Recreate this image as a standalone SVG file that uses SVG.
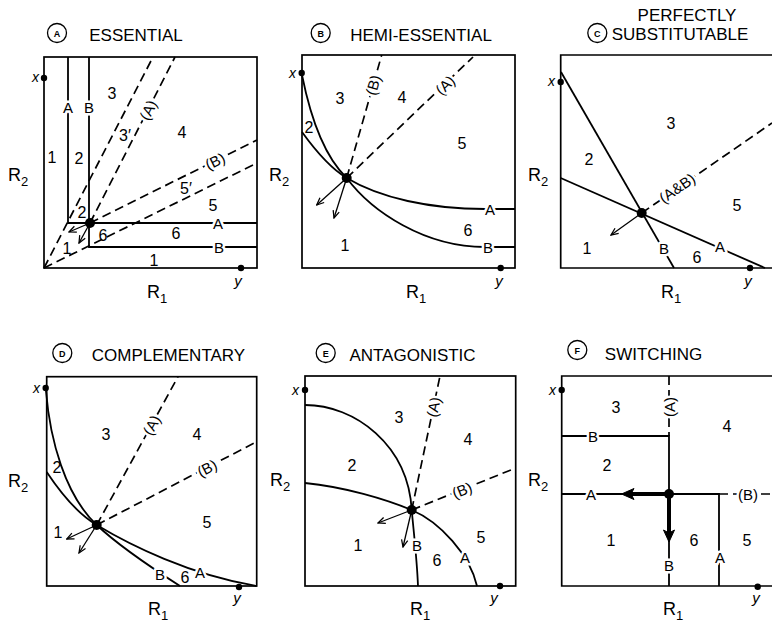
<svg xmlns="http://www.w3.org/2000/svg" width="772" height="628" viewBox="0 0 772 628">
<defs>
<style>
text{font-family:"Liberation Sans",Arial,sans-serif;fill:#000}
.bx{fill:none;stroke:#000;stroke-width:1.7}
.ln{fill:none;stroke:#000;stroke-width:1.8}
.ds{fill:none;stroke:#000;stroke-width:1.7;stroke-dasharray:9 5}
.ar{fill:none;stroke:#000;stroke-width:1.3;marker-end:url(#ah)}
.ttl{font-size:17px;text-anchor:middle}
.cl{fill:none;stroke:#000;stroke-width:1.3}
.cll{font-size:9px;font-weight:bold;text-anchor:middle}
.n{font-size:16px;text-anchor:middle;dominant-baseline:central}
.lb{font-size:15px;text-anchor:middle;dominant-baseline:central;paint-order:stroke;stroke:#fff;stroke-width:5px;stroke-linejoin:round}
.xl{font-size:14px;font-style:italic;text-anchor:end}
.yl{font-size:15px;font-style:italic;text-anchor:middle}
.r{font-size:18px}
.s{font-size:13px}
</style>
<marker id="ah" viewBox="0 0 10 10" refX="9" refY="5" markerWidth="9" markerHeight="9" markerUnits="userSpaceOnUse" orient="auto"><path d="M1,1.5 L9,5 L1,8.5" fill="none" stroke="#000" stroke-width="1.4"/></marker>
</defs>
<rect width="772" height="628" fill="#fff"/>

<g id="panel-a">
<circle class="cl" cx="57" cy="33" r="9.5"/><text class="cll" x="57" y="36.5">A</text>
<text class="ttl" x="136" y="41">ESSENTIAL</text>
<rect class="bx" x="44" y="57" width="213" height="211"/>
<g id="a-connectors">
<path class="ln" d="M68,57 V223 H257"/>
<path class="ln" d="M89,57 V247 H257"/>
<path class="ds" d="M44,268 L153,57"/>
<path class="ds" d="M44,268 L257,163"/>
<path class="ds" d="M90,223 L175,57"/>
<path class="ds" d="M90,223 L257,140"/>
<path class="ar" d="M90,223 L69,232"/>
<path class="ar" d="M90,223 L79,243"/>
</g>
<text class="lb" x="68" y="107">A</text>
<text class="lb" x="89" y="107">B</text>
<text class="lb" x="218" y="223">A</text>
<text class="lb" x="219" y="247">B</text>
<text class="lb" transform="translate(148,110) rotate(-63)">(A)</text>
<text class="lb" transform="translate(215,161) rotate(-26.4)">(B)</text>
<text class="n" x="112" y="93">3</text>
<text class="n" x="182" y="132">4</text>
<text class="n" x="213" y="205">5</text>
<text class="n" x="176" y="233">6</text>
<text class="n" x="103" y="235">6</text>
<text class="n" x="154" y="260">1</text>
<text class="n" x="52" y="157">1</text>
<text class="n" x="79" y="158">2</text>
<text class="n" x="82" y="212">2</text>
<text class="n" x="67" y="248">1</text>
<text class="n" x="125" y="135">3′</text>
<text class="n" x="186" y="188">5′</text>
<circle cx="90" cy="223" r="5"/>
<circle cx="44" cy="78" r="3.2"/><text class="xl" x="39" y="82">x</text>
<circle cx="241" cy="268" r="3.2"/><text class="yl" x="238" y="286">y</text>
<text class="r" x="8" y="181">R<tspan class="s" dy="5">2</tspan></text>
<text class="r" x="147" y="298">R<tspan class="s" dy="5">1</tspan></text>
</g>

<g id="panel-b">
<circle class="cl" cx="320.7" cy="33" r="9.5"/><text class="cll" x="320.7" y="36.5">B</text>
<text class="ttl" x="421" y="41">HEMI-ESSENTIAL</text>
<rect class="bx" x="302" y="55" width="213" height="213"/>
<g id="b-connectors">
<path class="ln" d="M302,75 C312,125 328,160 346.7,178 C372,212 425,247 485,247 L515,247"/>
<path class="ln" d="M302,132 C315,150 330,168 346.7,178 C380,198 430,209 485,209 L515,209"/>
<path class="ds" d="M346.7,178 L381.7,55"/>
<path class="ds" d="M346.7,178 L473,57"/>
<path class="ar" d="M346.7,178 L316.7,205"/>
<path class="ar" d="M346.7,178 L334,218"/>
</g>
<text class="lb" x="490" y="209">A</text>
<text class="lb" x="488" y="247">B</text>
<text class="lb" transform="translate(373,85) rotate(-74)">(B)</text>
<text class="lb" transform="translate(445,85) rotate(-43.8)">(A)</text>
<text class="n" x="340" y="98">3</text>
<text class="n" x="402" y="97">4</text>
<text class="n" x="462" y="143">5</text>
<text class="n" x="309" y="127">2</text>
<text class="n" x="468" y="230">6</text>
<text class="n" x="345" y="245">1</text>
<circle cx="346.7" cy="178" r="5"/>
<circle cx="301.7" cy="73" r="3.2"/><text class="xl" x="296" y="78">x</text>
<circle cx="500.7" cy="268" r="3.2"/><text class="yl" x="499" y="286">y</text>
<text class="r" x="269" y="181">R<tspan class="s" dy="5">2</tspan></text>
<text class="r" x="406" y="298">R<tspan class="s" dy="5">1</tspan></text>
</g>

<g id="panel-c">
<circle class="cl" cx="597.3" cy="33" r="9.5"/><text class="cll" x="597.3" y="36.5">C</text>
<text class="ttl" x="687" y="21">PERFECTLY</text>
<text class="ttl" x="680" y="40">SUBSTITUTABLE</text>
<path class="bx" d="M772,55 H560.7 V268 H772"/>
<g id="c-connectors">
<path class="ln" d="M561,72 L674,268"/>
<path class="ln" d="M560.7,178 L765,268"/>
<path class="ds" d="M641.7,213 L772,123"/>
<path class="ar" d="M641.7,213 L611,235"/>
</g>
<text class="lb" x="664" y="248">B</text>
<text class="lb" x="720" y="246">A</text>
<text class="lb" transform="translate(677,188) rotate(-34.7)">(A&amp;B)</text>
<text class="n" x="671" y="123">3</text>
<text class="n" x="589" y="159">2</text>
<text class="n" x="737" y="205">5</text>
<text class="n" x="587" y="248">1</text>
<text class="n" x="697" y="257">6</text>
<circle cx="641.7" cy="213" r="5"/>
<circle cx="560.7" cy="82" r="3.2"/><text class="xl" x="555" y="86">x</text>
<circle cx="750" cy="268" r="3.2"/><text class="yl" x="748" y="286">y</text>
<text class="r" x="528" y="181">R<tspan class="s" dy="5">2</tspan></text>
<text class="r" x="661" y="298">R<tspan class="s" dy="5">1</tspan></text>
</g>

<g id="panel-d">
<circle class="cl" cx="62.3" cy="353" r="9.5"/><text class="cll" x="62.3" y="356.5">D</text>
<text class="ttl" x="168.5" y="361">COMPLEMENTARY</text>
<rect class="bx" x="46.7" y="376.7" width="210" height="209.3"/>
<g id="d-connectors">
<path class="ln" d="M46,391 C50,440 65,495 96.7,525 C120,547 155,570 180,586"/>
<path class="ln" d="M46.7,472 C62,495 78,514 96.7,525 C130,545 190,575 256.7,586"/>
<path class="ds" d="M96.7,525 L178,376.7"/>
<path class="ds" d="M96.7,525 L256.7,441.7"/>
<path class="ar" d="M96.7,525 L66.7,539"/>
<path class="ar" d="M96.7,525 L79,553"/>
</g>
<text class="lb" x="160" y="574">B</text>
<text class="lb" x="200" y="572">A</text>
<text class="lb" transform="translate(151.5,425) rotate(-61.3)">(A)</text>
<text class="lb" transform="translate(207,468) rotate(-27.5)">(B)</text>
<text class="n" x="106" y="434">3</text>
<text class="n" x="197" y="434">4</text>
<text class="n" x="57" y="467">2</text>
<text class="n" x="207" y="522">5</text>
<text class="n" x="58" y="532">1</text>
<text class="n" x="185" y="577">6</text>
<circle cx="96.7" cy="525" r="5"/>
<circle cx="45.7" cy="388" r="3.2"/><text class="xl" x="40" y="393">x</text>
<circle cx="239" cy="587" r="3.2"/><text class="yl" x="237" y="603">y</text>
<text class="r" x="8" y="487">R<tspan class="s" dy="5">2</tspan></text>
<text class="r" x="148" y="615">R<tspan class="s" dy="5">1</tspan></text>
</g>

<g id="panel-e">
<circle class="cl" cx="325.7" cy="353" r="9.5"/><text class="cll" x="325.7" y="356.5">E</text>
<text class="ttl" x="412.5" y="361">ANTAGONISTIC</text>
<rect class="bx" x="305" y="376" width="210.7" height="210"/>
<g id="e-connectors">
<path class="ln" d="M305,405 C355,405 408,445 411.7,510 C414,535 417,560 418,586"/>
<path class="ln" d="M305,483 C345,487 385,499 411.7,510 C440,522 470,555 477,586"/>
<path class="ds" d="M411.7,510 L440,376"/>
<path class="ds" d="M411.7,510 L515.7,468"/>
<path class="ar" d="M411.7,510 L378,523"/>
<path class="ar" d="M411.7,510 L403,547"/>
</g>
<text class="lb" x="417" y="545">B</text>
<text class="lb" x="465" y="557">A</text>
<text class="lb" transform="translate(433.5,407) rotate(-78)">(A)</text>
<text class="lb" transform="translate(462,490) rotate(-22)">(B)</text>
<text class="n" x="399" y="417">3</text>
<text class="n" x="468" y="439">4</text>
<text class="n" x="352" y="465">2</text>
<text class="n" x="358" y="545">1</text>
<text class="n" x="481" y="537">5</text>
<text class="n" x="437" y="560">6</text>
<circle cx="411.7" cy="510" r="5"/>
<circle cx="305" cy="390" r="3.2"/><text class="xl" x="299" y="395">x</text>
<circle cx="500" cy="586" r="3.2"/><text class="yl" x="494" y="603">y</text>
<text class="r" x="270" y="486">R<tspan class="s" dy="5">2</tspan></text>
<text class="r" x="410" y="615">R<tspan class="s" dy="5">1</tspan></text>
</g>

<g id="panel-f">
<circle class="cl" cx="577.3" cy="350" r="9.5"/><text class="cll" x="577.3" y="353.5">F</text>
<text class="ttl" x="653.5" y="360">SWITCHING</text>
<path class="bx" d="M772,376 H561.7 V586 H772"/>
<g id="f-connectors">
<path class="ln" d="M561.7,436 H669 V586"/>
<path class="ln" d="M561.7,494 H719 V586"/>
<path class="ds" d="M669,376 V436"/>
<path class="ds" d="M719,494 H772"/>
<path d="M669,494 H630" fill="none" stroke="#000" stroke-width="4"/>
<path d="M621.5,494 L634,488.5 L631,494 L634,499.5 Z" fill="#000" stroke="#000" stroke-width="1"/>
<path d="M669,494 V533" fill="none" stroke="#000" stroke-width="4"/>
<path d="M669,542 L663.5,530 L669,533 L674.5,530 Z" fill="#000" stroke="#000" stroke-width="1"/>
</g>
<text class="lb" x="593" y="436">B</text>
<text class="lb" x="669" y="565">B</text>
<text class="lb" x="591" y="494">A</text>
<text class="lb" x="720" y="557">A</text>
<text class="lb" transform="translate(669,407) rotate(-90)">(A)</text>
<text class="lb" x="748" y="494">(B)</text>
<text class="n" x="616" y="407">3</text>
<text class="n" x="727" y="426">4</text>
<text class="n" x="607" y="465">2</text>
<text class="n" x="611" y="540">1</text>
<text class="n" x="694" y="540">6</text>
<text class="n" x="747" y="540">5</text>
<circle cx="669" cy="494" r="5"/>
<circle cx="561.7" cy="390" r="3.2"/><text class="xl" x="556" y="395">x</text>
<circle cx="757.7" cy="586.7" r="3.2"/><text class="yl" x="756" y="603">y</text>
<text class="r" x="528" y="486">R<tspan class="s" dy="5">2</tspan></text>
<text class="r" x="663" y="615">R<tspan class="s" dy="5">1</tspan></text>
</g>
</svg>
